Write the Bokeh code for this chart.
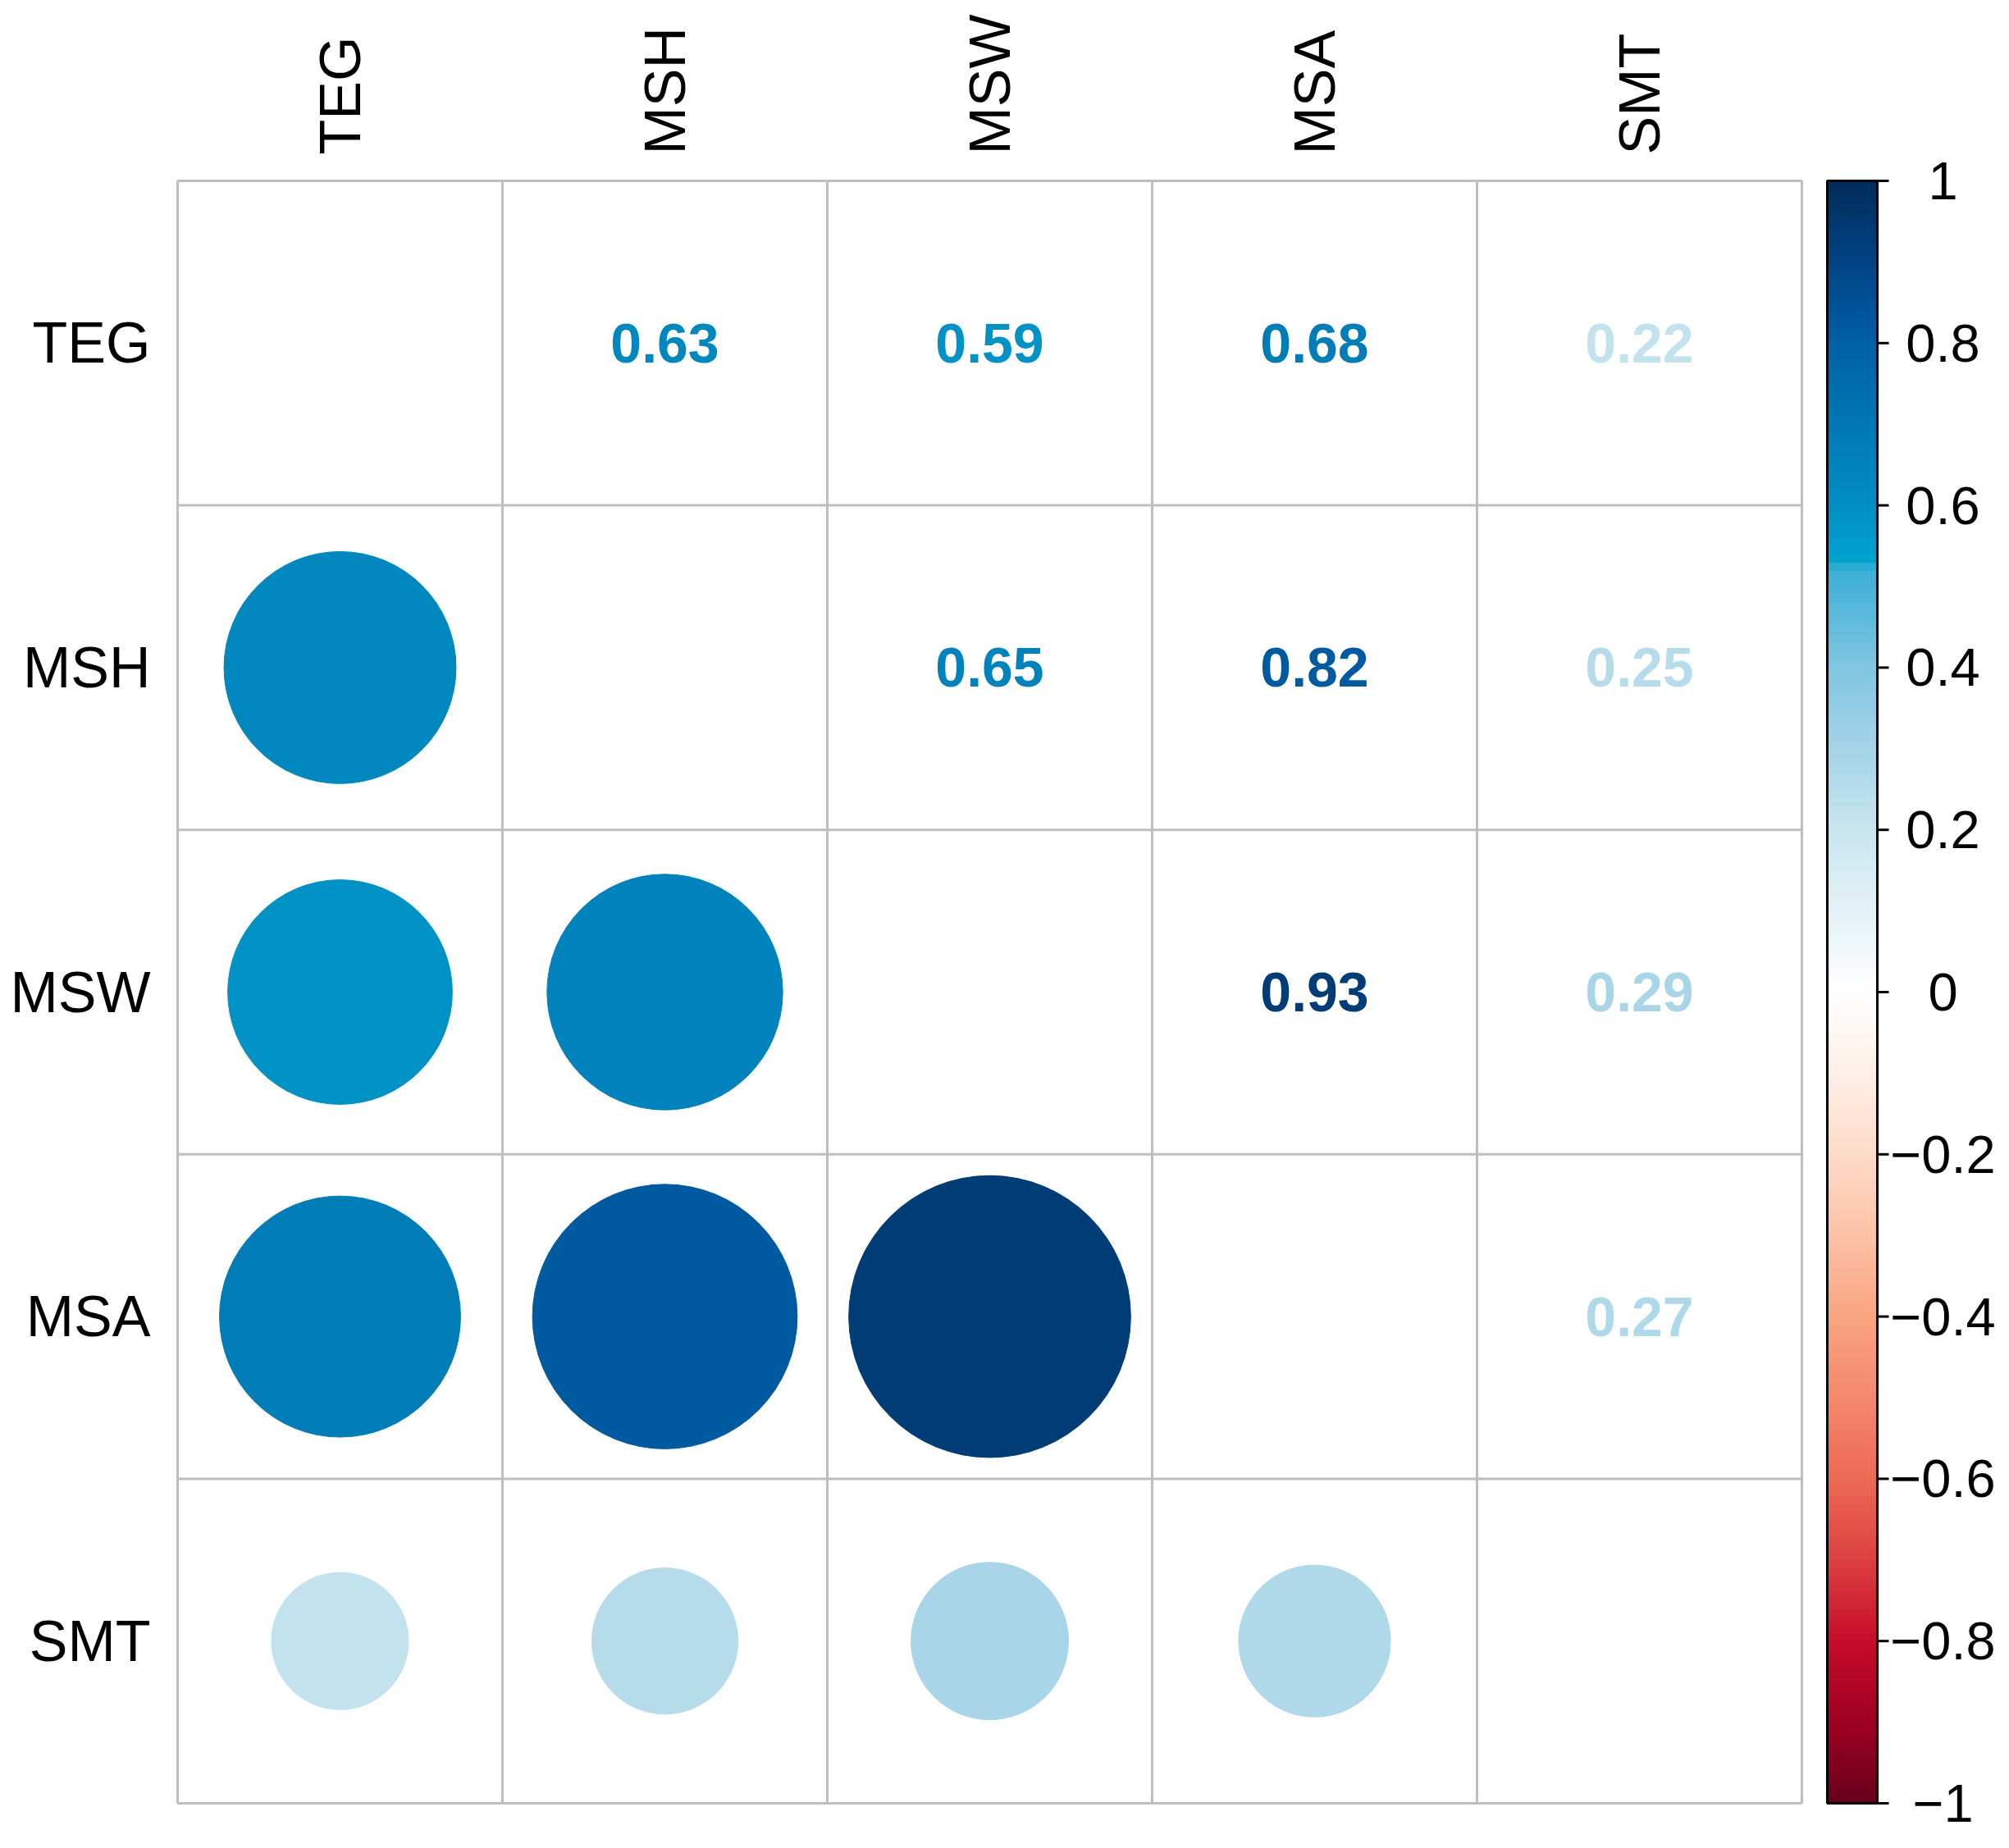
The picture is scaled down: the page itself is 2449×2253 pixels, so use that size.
import numpy as np
from bokeh.plotting import figure
from bokeh.models import Range1d
from bokeh.core.properties import value
from bokeh.embed import file_html
from bokeh.resources import INLINE

# ---------------- data ----------------
variables = ["TEG", "MSH", "MSW", "MSA", "SMT"]
corr_TEG = [1.00, 0.63, 0.59, 0.68, 0.22]
corr_MSH = [0.63, 1.00, 0.65, 0.82, 0.25]
corr_MSW = [0.59, 0.65, 1.00, 0.93, 0.29]
corr_MSA = [0.68, 0.82, 0.93, 1.00, 0.27]
corr_SMT = [0.22, 0.25, 0.29, 0.27, 1.00]
corr = [corr_TEG, corr_MSH, corr_MSW, corr_MSA, corr_SMT]
cbar_ticks = [-1.0, -0.8, -0.6, -0.4, -0.2, 0.0, 0.2, 0.4, 0.6, 0.8, 1.0]
cbar_labels = ["\u22121", "\u22120.8", "\u22120.6", "\u22120.4", "\u22120.2", "0",
               "0.2", "0.4", "0.6", "0.8", "1"]

# ---------------- colour map ----------------
stops = [
    (-1.00, "#67001C"), (-0.90, "#9E0022"), (-0.80, "#C60C2B"), (-0.70, "#DC4040"),
    (-0.60, "#EC6A55"), (-0.50, "#F4886C"), (-0.40, "#F9A480"), (-0.30, "#FCC2A6"),
    (-0.20, "#FDDBC8"), (-0.10, "#FEEFE7"), (0.00, "#FFFFFF"), (0.10, "#E4F2F7"),
    (0.20, "#C9E5EF"), (0.30, "#A4D4E7"), (0.40, "#80C6E1"), (0.52, "#3CAFD6"),
    (0.535, "#00A2CE"), (0.60, "#008FC3"), (0.70, "#0077B4"), (0.80, "#0060A6"),
    (0.90, "#004484"), (1.00, "#002C5A"),
]
sv = np.array([s[0] for s in stops])
srgb = np.array([[int(c[1:3], 16), int(c[3:5], 16), int(c[5:7], 16)] for _, c in stops], float)


def cmap(v):
    r = [np.interp(v, sv, srgb[:, k]) for k in range(3)]
    return "#%02x%02x%02x" % tuple(int(round(x)) for x in r)


# ---------------- figure ----------------
W, H = 2433, 2237
cw, ch = 396.0, 395.6
gx0, gy0 = 216, 220  # canvas position of grid's top-left corner
n = len(variables)
xr = Range1d(0.5 - gx0 / cw, 0.5 + (W - gx0) / cw)
yr = Range1d(n + 0.5 - (H - gy0) / ch, n + 0.5 + gy0 / ch)

p = figure(width=W, height=H, x_range=xr, y_range=yr, output_backend="svg",
           toolbar_location=None, x_axis_type=None, y_axis_type=None,
           min_border=0, min_border_left=0, min_border_right=0,
           min_border_top=0, min_border_bottom=0)
p.grid.visible = False
p.outline_line_color = None
p.background_fill_color = "white"
p.border_fill_color = "white"

col_x = [i + 1 for i in range(n)]
row_y = [n - j for j in range(n)]

# circles (lower triangle) and numbers (upper triangle)
cx, cy, cr, cc = [], [], [], []
tx, ty, tt, tc = [], [], [], []
for j in range(n):
    for i in range(n):
        v = corr[j][i]
        if i < j:
            cx.append(col_x[i]); cy.append(row_y[j])
            cr.append(0.45 * np.sqrt(abs(v))); cc.append(cmap(v))
        elif i > j:
            tx.append(col_x[i]); ty.append(row_y[j])
            tt.append("%.2f" % v); tc.append(cmap(v))

p.circle(x=cx, y=cy, radius=cr, fill_color=cc, line_color=cc, line_width=1)
p.text(x=tx, y=ty, text=tt, text_color=tc, text_font=value("Liberation Sans"),
       text_font_size="68px", text_font_style="bold",
       text_align="center", text_baseline="middle")

# grid lines
b = [k + 0.5 for k in range(n + 1)]
p.segment(x0=b, y0=[0.5] * len(b), x1=b, y1=[n + 0.5] * len(b),
          line_color="#BEBEBE", line_width=3)
p.segment(x0=[0.5] * len(b), y0=b, x1=[n + 0.5] * len(b), y1=b,
          line_color="#BEBEBE", line_width=3)

# row / column labels
p.text(x=[0.5] * n, y=row_y, text=variables, x_offset=-33,
       text_font=value("Liberation Sans"), text_font_size="70px",
       text_color="black", text_align="right", text_baseline="middle")
p.text(x=col_x, y=[n + 0.5] * n, text=variables, y_offset=-32, angle=np.pi / 2,
       text_font=value("Liberation Sans"), text_font_size="70px",
       text_color="black", text_align="left", text_baseline="middle")

# colour bar
cb_l = n + 0.5 + 31 / cw
cb_r = n + 0.5 + 92 / cw
ymid, yhalf = (n + 1) / 2, n / 2
N = 200
edges = np.linspace(-1, 1, N + 1)
bot = [ymid + yhalf * e for e in edges[:-1]]
top = [ymid + yhalf * e for e in edges[1:]]
mids = 0.5 * (edges[:-1] + edges[1:])
cols = [cmap(m) for m in mids]
p.quad(left=cb_l, right=cb_r, bottom=bot, top=top, fill_color=cols,
       line_color=cols, line_width=1)
p.quad(left=[cb_l], right=[cb_r], bottom=[0.5], top=[n + 0.5],
       fill_color=None, line_color="black", line_width=3)
tick_y = [ymid + yhalf * t for t in cbar_ticks]
p.segment(x0=[cb_r] * len(tick_y), y0=tick_y, x1=[cb_r + 14 / cw] * len(tick_y),
          y1=tick_y, line_color="black", line_width=3)
p.text(x=[cb_r] * len(tick_y), y=tick_y, text=cbar_labels, x_offset=80,
       text_font=value("Liberation Sans"), text_font_size="65px",
       text_color="black", text_align="center", text_baseline="middle")

open("out.html", "w").write(file_html(p, INLINE))
